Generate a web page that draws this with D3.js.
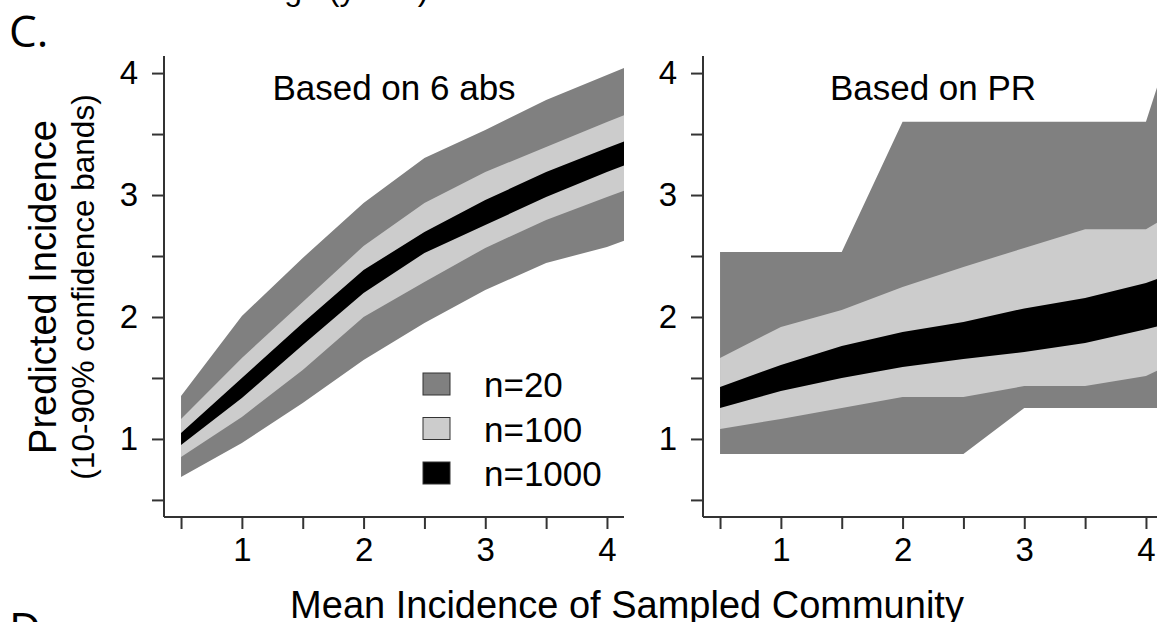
<!DOCTYPE html>
<html>
<head>
<meta charset="utf-8">
<script src="https://cdn.jsdelivr.net/npm/d3@7"></script>
<style>
  body { margin: 0; background: #fff; }
  text { font-family: "Liberation Sans", Arial, sans-serif; fill: #000; }
  .axis path, .axis line { stroke: #333; stroke-width: 2; }
  .axis text { font-size: 33px; }
</style>
</head>
<body>
<script>
// x positions of the simulated mean incidence (last one is past the axis and gets clipped)
const xs = [0.5, 1, 1.5, 2, 2.5, 3, 3.5, 4, 4.5];

// Based on 6 abs
const abs20Lo = [0.689, 0.967, 1.295, 1.648, 1.951, 2.221, 2.443, 2.574, 2.76];
const abs20Hi = [1.352, 2.008, 2.484, 2.934, 3.303, 3.533, 3.779, 3.984, 4.19];
const abs100Lo = [0.852, 1.18, 1.566, 2.0, 2.287, 2.566, 2.795, 2.984, 3.17];
const abs100Hi = [1.164, 1.664, 2.123, 2.582, 2.934, 3.189, 3.393, 3.598, 3.8];
const abs1000Lo = [0.951, 1.336, 1.77, 2.197, 2.525, 2.754, 2.984, 3.189, 3.38];
const abs1000Hi = [1.049, 1.5, 1.951, 2.385, 2.697, 2.959, 3.189, 3.385, 3.58];

// Based on PR
const pr20Lo = [0.877, 0.877, 0.877, 0.877, 0.877, 1.254, 1.254, 1.254, 1.254];
const pr20Hi = [2.533, 2.533, 2.533, 3.6, 3.6, 3.6, 3.6, 3.6, 5.15];
const pr100Lo = [1.082, 1.164, 1.254, 1.344, 1.344, 1.434, 1.434, 1.516, 1.75];
const pr100Hi = [1.664, 1.918, 2.057, 2.246, 2.41, 2.566, 2.72, 2.72, 3.01];
const pr1000Lo = [1.254, 1.393, 1.5, 1.59, 1.656, 1.713, 1.787, 1.9, 2.02];
const pr1000Hi = [1.426, 1.607, 1.762, 1.877, 1.959, 2.07, 2.156, 2.279, 2.455];

const tickVals = [0.5, 1, 1.5, 2, 2.5, 3, 3.5, 4];
const legendLabels = ["n=20", "n=100", "n=1000"];
const bandColors = ["#808080", "#cccccc", "#000000"];

const width = 1157;
const height = 622;

const svg = d3.select("body")
  .append("svg")
  .attr("width", width)
  .attr("height", height);

const domain = [0.36, 4.14];
const y = d3.scaleLinear().domain(domain).range([517, 56]);

const panels = [
  {id: "abs", title: "Based on 6 abs", left: 164, bands: [[abs20Lo, abs20Hi], [abs100Lo, abs100Hi], [abs1000Lo, abs1000Hi]]},
  {id: "pr", title: "Based on PR", left: 703, bands: [[pr20Lo, pr20Hi], [pr100Lo, pr100Hi], [pr1000Lo, pr1000Hi]]}
];

panels.forEach(function(p) {
  const x = d3.scaleLinear().domain(domain).range([p.left, p.left + 460]);

  svg.append("clipPath")
    .attr("id", "clip-" + p.id)
    .append("rect")
    .attr("x", p.left)
    .attr("y", 56)
    .attr("width", 460)
    .attr("height", 461);

  const g = svg.append("g").attr("clip-path", "url(#clip-" + p.id + ")");

  p.bands.forEach(function(b, i) {
    const area = d3.area()
      .x((d, j) => x(xs[j]))
      .y0((d, j) => y(b[0][j]))
      .y1((d, j) => y(b[1][j]));
    g.append("path")
      .attr("d", area(xs))
      .attr("fill", bandColors[i]);
  });

  svg.append("g")
    .attr("class", "axis")
    .attr("transform", "translate(" + p.left + ",0)")
    .call(d3.axisLeft(y)
      .tickValues(tickVals)
      .tickFormat(d => Number.isInteger(d) ? d : "")
      .tickSize(12)
      .tickPadding(14))
    .call(g => g.select(".domain").attr("d", "M0,56V517"));

  svg.append("g")
    .attr("class", "axis")
    .attr("transform", "translate(0,517)")
    .call(d3.axisBottom(x)
      .tickValues(tickVals)
      .tickFormat(d => Number.isInteger(d) ? d : "")
      .tickSize(12)
      .tickPadding(9))
    .call(g => g.select(".domain").attr("d", "M" + p.left + ",0H" + (p.left + 460)));

  svg.append("text")
    .attr("x", p.left + 230)
    .attr("y", 100)
    .attr("text-anchor", "middle")
    .style("font-size", "35px")
    .text(p.title);
});

// legend (left panel)
const legend = svg.append("g").attr("transform", "translate(423,373)");
legendLabels.forEach(function(lab, i) {
  legend.append("rect")
    .attr("x", 0)
    .attr("y", i * 44.5)
    .attr("width", 27)
    .attr("height", 22)
    .attr("fill", bandColors[i])
    .attr("stroke", "#333")
    .attr("stroke-width", 1);
  legend.append("text")
    .attr("x", 61)
    .attr("y", i * 44.5 + 24)
    .style("font-size", "35px")
    .text(lab);
});

// axis titles
svg.append("text")
  .attr("x", 627)
  .attr("y", 618)
  .attr("text-anchor", "middle")
  .style("font-size", "38px")
  .text("Mean Incidence of Sampled Community");

svg.append("text")
  .attr("transform", "translate(56,287) rotate(-90)")
  .attr("text-anchor", "middle")
  .style("font-size", "38px")
  .text("Predicted Incidence");

svg.append("text")
  .attr("transform", "translate(94,287) rotate(-90)")
  .attr("text-anchor", "middle")
  .style("font-size", "31.5px")
  .text("(10-90% confidence bands)");

// panel letters and the cut-off title of the panel above
svg.append("text")
  .attr("x", 9)
  .attr("y", 47)
  .style("font-family", "'Open Sans', sans-serif")
  .style("font-size", "44px")
  .text("C.");

svg.append("text")
  .attr("x", 9)
  .attr("y", 644)
  .style("font-family", "'Open Sans', sans-serif")
  .style("font-size", "44px")
  .text("D.");

svg.append("text")
  .attr("x", 263)
  .attr("y", 0)
  .style("font-size", "32px")
  .text("Age (years)");
</script>
</body>
</html>
